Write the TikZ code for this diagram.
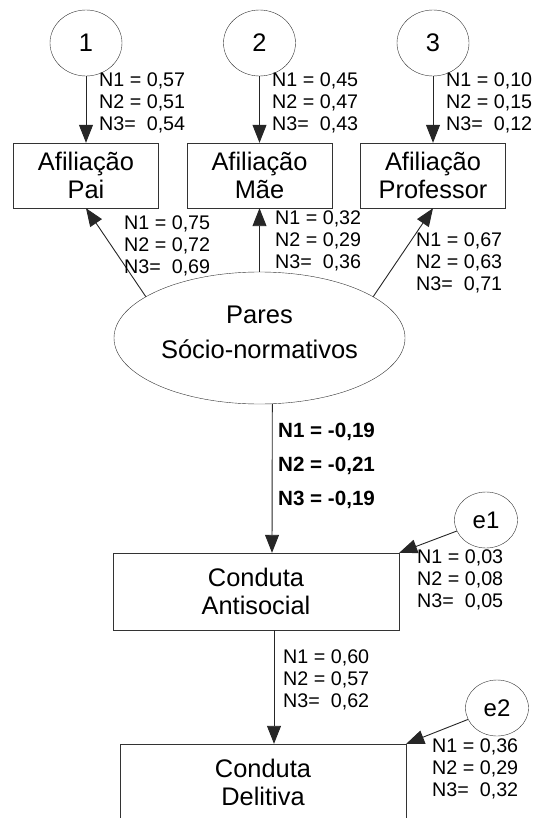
\documentclass[tikz,border=0pt]{standalone}
\usepackage{fontspec}
\setmainfont{Liberation Sans}
\usetikzlibrary{arrows.meta,positioning,shapes.geometric}

\tikzset{
  latent/.style={draw=black!80,ellipse,minimum width=72pt,minimum height=66pt,inner sep=0pt,font=\fontsize{25.4}{28}\selectfont},
  obsbox/.style={draw=black!80,rectangle,minimum width=145pt,minimum height=65pt,inner sep=0pt,align=center,font=\fontsize{25.4}{28.5}\selectfont},
  errc/.style={draw=black!80,ellipse,minimum width=63pt,minimum height=56pt,inner sep=0pt,font=\fontsize{24}{28}\selectfont},
  coef/.style={anchor=north west,inner sep=0pt,align=left,font=\fontsize{19.7}{22}\selectfont},
  coefb/.style={coef,font=\fontsize{20.6}{34}\selectfont\bfseries},
  link/.style={-{Triangle[length=18pt,width=14pt]},draw=black!85,line width=0.9pt}
}

\begin{document}
\begin{tikzpicture}[x=1pt,y=-1pt]
\useasboundingbox (0,0) rectangle (540,818);
\node[latent] (f1) at (86,43) {1};
\node[latent] (f2) at (259.5,43) {2};
\node[latent] (f3) at (433,43) {3};
\node[obsbox] (pai) at (86,175.5) {Afiliação\\Pai};
\node[obsbox] (mae) at (259.5,175.5) {Afiliação\\Mãe};
\node[obsbox] (prof) at (433,175.5) {Afiliação\\Professor};
\node[draw=black!80,ellipse,minimum width=291pt,minimum height=132pt,inner sep=0pt,align=center,font=\fontsize{25.5}{35}\selectfont] (pares) at (259.5,338) {Pares\\Sócio-normativos\rule[-12pt]{0pt}{12pt}};
\node[obsbox,minimum width=286pt,minimum height=77pt] (anti) at (256,591.5) {Conduta\\Antisocial};
\node[obsbox,minimum width=286pt,minimum height=77pt] (deli) at (263,782.5) {Conduta\\Delitiva};
\node[errc] (e1) at (486,520) {e1};
\node[errc] (e2) at (497,708) {e2};

\foreach \a/\b in {f1/pai,f2/mae,f3/prof}
  \draw[link] (\a) -- (\b);
\draw[link] (pares.160) -- (pai.south);
\draw[link] (pares.north) -- (mae.south);
\draw[link] (pares.20) -- (prof.south);
\draw[link] (pares.-79.2) -- ([xshift=16pt]anti.north);
\draw[link] ([xshift=18pt]anti.south) -- ([xshift=11pt]deli.north);
\draw[link] (e1) -- (anti.north east);
\draw[link] (e2) -- (deli.north east);

\node[coef] (l1) at (99,73) {N1 = 0,57\\N2 = 0,51\\N3=~~0,54};
\node[coef] (l2) at (272,73) {N1 = 0,45\\N2 = 0,47\\N3=~~0,43};
\node[coef] (l3) at (446,73) {N1 = 0,10\\N2 = 0,15\\N3=~~0,12};
\node[coef] (l4) at (124,216) {N1 = 0,75\\N2 = 0,72\\N3=~~0,69};
\node[coef] (l5) at (275,211) {N1 = 0,32\\N2 = 0,29\\N3=~~0,36};
\node[coef] (l6) at (416,233) {N1 = 0,67\\N2 = 0,63\\N3=~~0,71};
\node[coefb] (l7) at (278,423) {N1 = -0,19\\N2 = -0,21\\N3 = -0,19};
\node[coef] (l8) at (417,550) {N1 = 0,03\\N2 = 0,08\\N3=~~0,05};
\node[coef] (l9) at (283,650) {N1 = 0,60\\N2 = 0,57\\N3=~~0,62};
\node[coef] (l10) at (432,739) {N1 = 0,36\\N2 = 0,29\\N3=~~0,32};
\end{tikzpicture}
\end{document}
